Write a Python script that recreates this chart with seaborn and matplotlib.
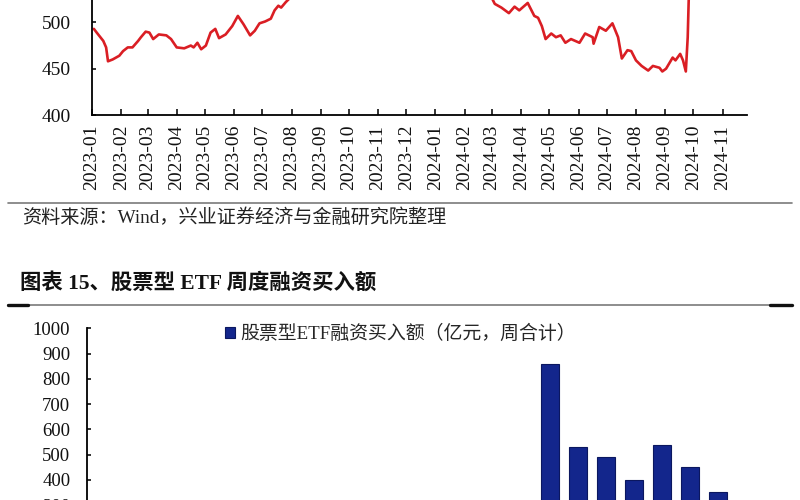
import matplotlib
matplotlib.use("Agg")
import matplotlib.pyplot as plt
import matplotlib.dates as mdates
from matplotlib.lines import Line2D
import seaborn as sns
import pandas as pd

# 上图：折线（上半部分被截掉）
line_dates = [
    "2023-01-03", "2023-01-06", "2023-01-13", "2023-01-16", "2023-01-18", "2023-01-23",
    "2023-01-30", "2023-02-03", "2023-02-08", "2023-02-13", "2023-02-19", "2023-02-22",
    "2023-02-27", "2023-03-03", "2023-03-07", "2023-03-13", "2023-03-21", "2023-03-26",
    "2023-04-01", "2023-04-09", "2023-04-16", "2023-04-19", "2023-04-23", "2023-04-27",
    "2023-05-02", "2023-05-07", "2023-05-12", "2023-05-16", "2023-05-23", "2023-05-30",
    "2023-06-05", "2023-06-11", "2023-06-18", "2023-06-23", "2023-06-28", "2023-07-04",
    "2023-07-10", "2023-07-14", "2023-07-18", "2023-07-21", "2023-07-26", "2023-08-01",
    "2023-08-15", "2023-09-01", "2023-09-20", "2023-10-10", "2023-11-01", "2023-11-20",
    "2023-12-10", "2024-01-05", "2024-01-25", "2024-02-10", "2024-02-25",
    "2024-03-02", "2024-03-04", "2024-03-11", "2024-03-19", "2024-03-25", "2024-03-30",
    "2024-04-08", "2024-04-15", "2024-04-19", "2024-04-23", "2024-04-27", "2024-05-03",
    "2024-05-08", "2024-05-13", "2024-05-18", "2024-05-24", "2024-06-02", "2024-06-08",
    "2024-06-16", "2024-06-17", "2024-06-23", "2024-06-30", "2024-07-07", "2024-07-13",
    "2024-07-17", "2024-07-23", "2024-07-27", "2024-08-01", "2024-08-07", "2024-08-14",
    "2024-08-19", "2024-08-26", "2024-08-29", "2024-09-02", "2024-09-09", "2024-09-12",
    "2024-09-17", "2024-09-20", "2024-09-23", "2024-09-25", "2024-09-27", "2024-09-30",
]
line_values = [
    493, 489, 480, 473, 458, 460,
    464, 469, 473, 473, 480, 484,
    490, 489, 482, 487, 486, 482,
    473, 472, 475, 473, 478, 471,
    475, 489, 493, 483, 487, 496,
    507, 498, 486, 491, 499, 501,
    504, 513, 518, 516, 522, 528,
    545, 560, 552, 565, 575, 560,
    570, 585, 570, 555, 540,
    524, 520, 516, 510, 517, 513,
    521, 507, 505, 496, 482, 488,
    484, 486, 478, 482, 478, 488,
    484, 477, 495, 491, 499, 484,
    461, 470, 469, 459, 453, 448,
    453, 451, 447, 450, 462, 459,
    466, 459, 447, 484, 560, 590,
]
line_yticks = [400, 450, 500]

# 下图：股票型ETF周度融资买入额（下半部分被截掉）
bar_weeks = ["2024-10-11", "2024-10-18", "2024-10-25", "2024-11-01",
             "2024-11-08", "2024-11-15", "2024-11-22"]
bar_values = [858, 531, 490, 398, 540, 452, 352]
bar_yticks = list(range(300, 1001, 100))

source_text = "资料来源：Wind，兴业证券经济与金融研究院整理"
title_text = "图表 15、股票型 ETF 周度融资买入额"
legend_text = "股票型ETF融资买入额（亿元，周合计）"

sns.set_style("ticks")
plt.rcParams["font.family"] = ["Liberation Serif", "Noto Sans CJK SC"]
plt.rcParams["axes.unicode_minus"] = False

W, H = 800, 500
fig = plt.figure(figsize=(8, 5), dpi=100)
fig.patch.set_facecolor("white")

def px(x0, y0, w, h):
    # 像素框 -> figure 坐标
    return [x0 / W, 1 - (y0 + h) / H, w / W, h / H]

# ---- 上图 ----
ax1 = fig.add_axes(px(92, 115 - 185.2, 655, 185.2))
df_line = pd.DataFrame({"date": pd.to_datetime(line_dates), "value": line_values})
sns.lineplot(data=df_line, x="date", y="value", ax=ax1, color="#DA1E24", linewidth=1.9)
ax1.set_ylim(400, 600)
ax1.set_yticks(line_yticks)
ax1.set_xlim(pd.Timestamp("2023-01-01"), pd.Timestamp("2024-11-27"))
ax1.xaxis.set_major_locator(mdates.MonthLocator())
ax1.xaxis.set_major_formatter(mdates.DateFormatter("%Y-%m"))
ax1.set_xlabel("")
ax1.set_ylabel("")
for s in ["top", "right"]:
    ax1.spines[s].set_visible(False)
for s in ["left", "bottom"]:
    ax1.spines[s].set_color("black")
    ax1.spines[s].set_linewidth(1.3)
ax1.tick_params(axis="x", direction="in", length=4.5, width=1.2, pad=7,
                labelsize=14, rotation=90, colors="#111111")
ax1.tick_params(axis="y", direction="in", length=3, width=1.2, pad=15,
                labelsize=14, colors="#111111")

# ---- 分隔线和文字 ----
fig.add_artist(Line2D([8 / W, 792 / W], [1 - 203 / H] * 2, color="#7a7a7a", lw=1.2))
fig.add_artist(Line2D([8 / W, 792 / W], [1 - 305 / H] * 2, color="#7a7a7a", lw=1.2))
fig.add_artist(Line2D([8 / W, 28 / W], [1 - 305 / H] * 2, color="#111111", lw=2.4))
fig.add_artist(Line2D([770 / W, 792 / W], [1 - 305 / H] * 2, color="#111111", lw=2.4))
fig.text(22 / W, 1 - 218 / H, source_text, fontsize=13.8, color="#222222",
         ha="left", va="center")
fig.text(20 / W, 1 - 283 / H, title_text, fontsize=15.4, fontweight="bold",
         color="#111111", ha="left", va="center")

# ---- 下图 ----
ax2 = fig.add_axes(px(87, 328.3, 673, 252.7))
sns.barplot(x=bar_weeks, y=bar_values, ax=ax2, color="#13268C", width=0.664,
            edgecolor="#0B175F", linewidth=0.8, saturation=1, label=legend_text)
ax2.set_xlim(-16.54, 7.5)
ax2.set_ylim(0, 1000)
ax2.set_yticks(bar_yticks)
ax2.set_xticks([])
for s in ["top", "right"]:
    ax2.spines[s].set_visible(False)
for s in ["left", "bottom"]:
    ax2.spines[s].set_color("black")
    ax2.spines[s].set_linewidth(1.3)
ax2.tick_params(axis="y", direction="in", length=3, width=1.2, pad=12,
                labelsize=13.5, colors="#111111")
ax2.legend(loc="center left", bbox_to_anchor=(225 / W, 1 - 334 / H),
           bbox_transform=fig.transFigure, frameon=False, fontsize=13.6,
           handlelength=0.55, handleheight=0.55, handletextpad=0.25,
           borderpad=0, borderaxespad=0)

fig.savefig("out.png", dpi=100)
